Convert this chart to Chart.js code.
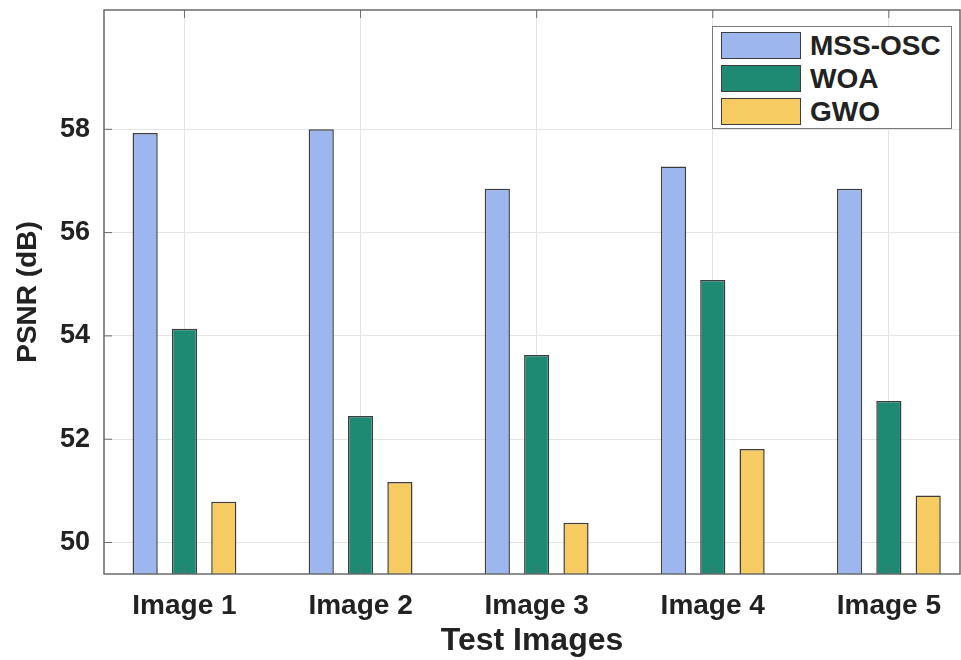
<!DOCTYPE html>
<html>
<head>
<meta charset="utf-8">
<script src="https://cdn.jsdelivr.net/npm/chart.js@4.4.1/dist/chart.umd.min.js"></script>
<style>
  body { margin: 0; background: #fff; }
  #wrap { position: relative; width: 961px; height: 660px; }
  #legend {
    position: absolute; left: 712px; top: 26px; width: 238px; height: 101px;
    border: 1.5px solid #7a7a7a; background: #fff;
    font-family: 'Liberation Sans', Arial, sans-serif; font-weight: bold; font-size: 28px; color: #222;
  }
  #legend .row { position: absolute; left: 8px; height: 27px; display: flex; align-items: center; }
  #legend .sw { width: 78px; height: 25px; border: 1.5px solid #3c3c3c; margin-right: 9px; }
</style>
</head>
<body>
<div id="wrap">
  <canvas id="chart" width="961" height="660"></canvas>
  <div id="legend"></div>
</div>
<script>
(function(Chart) {
    const categories = ['Image 1', 'Image 2', 'Image 3', 'Image 4', 'Image 5'];
    const mssOsc = [57.93, 58.00, 56.85, 57.28, 56.85];
    const woa = [54.14, 52.45, 53.63, 55.08, 52.74];
    const gwo = [50.79, 51.17, 50.38, 51.81, 50.91];
    const yTicks = [50, 52, 54, 56, 58];

    const seriesNames = ['MSS-OSC', 'WOA', 'GWO'];
    const fills = ['#9db7ee', '#1f8a74', '#f6cb62'];
    const font = "'Liberation Sans', Arial, sans-serif";
    const textColor = '#222';

    function toPoints(values) {
        return values.map((v, i) => ({ x: i + 1, y: v }));
    }

    // matlab style box with inward tick marks
    const boxPlugin = {
        id: 'box',
        afterDatasetsDraw(chart) {
            const { ctx, chartArea: a, scales } = chart;
            ctx.save();
            ctx.strokeStyle = '#6a6a6a';
            ctx.lineWidth = 1.5;
            ctx.strokeRect(a.left, a.top, a.right - a.left, a.bottom - a.top);
            ctx.lineWidth = 1;
            ctx.beginPath();
            yTicks.forEach(v => {
                const y = scales.y.getPixelForValue(v);
                ctx.moveTo(a.left, y); ctx.lineTo(a.left + 8, y);
            });
            categories.forEach((c, i) => {
                const x = scales.x.getPixelForValue(i + 1);
                ctx.moveTo(x, a.top); ctx.lineTo(x, a.top + 8);
                ctx.moveTo(x, a.bottom); ctx.lineTo(x, a.bottom - 8);
            });
            ctx.stroke();
            ctx.restore();
        }
    };

    const data = {
        datasets: [mssOsc, woa, gwo].map((vals, k) => ({
            label: seriesNames[k],
            data: toPoints(vals),
            backgroundColor: fills[k],
            borderColor: '#3c3c3c',
            borderWidth: 1.5,
            borderSkipped: 'bottom',
            categoryPercentage: 0.67,
            barPercentage: 0.64
        }))
    };

    const config = {
        type: 'bar',
        data: data,
        options: {
            responsive: false,
            animation: false,
            layout: { padding: { top: 10, right: 1, left: 0, bottom: 0 } },
            plugins: {
                legend: { display: false },
                tooltip: { enabled: false }
            },
            scales: {
                x: {
                    type: 'linear',
                    offset: false,
                    min: 0.543,
                    max: 5.404,
                    afterBuildTicks: scale => {
                        scale.ticks = categories.map((c, i) => ({ value: i + 1 }));
                    },
                    afterFit: scale => {
                        scale.height = 86;
                        scale.paddingLeft = 0;
                        scale.paddingRight = 0;
                    },
                    grid: { color: '#e4e4e4', lineWidth: 1, drawTicks: false, offset: false },
                    border: { display: false },
                    ticks: {
                        autoSkip: false,
                        maxRotation: 0,
                        padding: 15,
                        color: textColor,
                        font: { family: font, size: 28, weight: 'bold' },
                        callback: v => categories[v - 1]
                    },
                    title: {
                        display: true,
                        text: 'Test Images',
                        color: textColor,
                        font: { family: font, size: 32, weight: 'bold' },
                        padding: { top: 0, bottom: 0 }
                    }
                },
                y: {
                    min: 49.39,
                    max: 60.31,
                    afterBuildTicks: scale => {
                        scale.ticks = yTicks.map(v => ({ value: v }));
                    },
                    afterFit: scale => {
                        scale.width = 104;
                        scale.paddingTop = 0;
                        scale.paddingBottom = 0;
                    },
                    grid: { color: '#e4e4e4', lineWidth: 1, drawTicks: false },
                    border: { display: false },
                    ticks: {
                        padding: 14,
                        color: textColor,
                        font: { family: font, size: 27, weight: 'bold' }
                    },
                    title: {
                        display: true,
                        text: 'PSNR (dB)',
                        color: textColor,
                        font: { family: font, size: 28, weight: 'bold' },
                        padding: { top: 11, bottom: 0 }
                    }
                }
            }
        },
        plugins: [boxPlugin]
    };

    const ctx = document.getElementById('chart').getContext('2d');
    const chart = new Chart(ctx, config);

    // legend box inside the axes, built from the datasets
    const legend = document.getElementById('legend');
    chart.data.datasets.forEach((ds, k) => {
        const row = document.createElement('div');
        row.className = 'row';
        row.style.top = (5 + k * 33) + 'px';
        const sw = document.createElement('span');
        sw.className = 'sw';
        sw.style.background = ds.backgroundColor;
        const txt = document.createElement('span');
        txt.textContent = ds.label;
        row.appendChild(sw);
        row.appendChild(txt);
        legend.appendChild(row);
    });
})(Chart);
</script>
</body>
</html>
